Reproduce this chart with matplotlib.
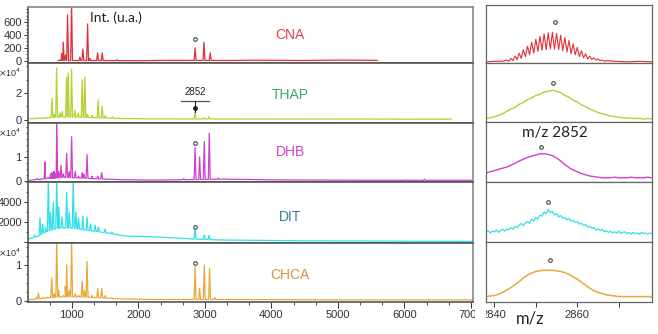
import numpy as np
import matplotlib
matplotlib.use("Agg")
import matplotlib.pyplot as plt
from matplotlib.ticker import AutoMinorLocator, MultipleLocator
from matplotlib.patches import Rectangle

W, H = 658, 334

# ---- full spectra (left column): peak positions (m/z) and heights ----
matrices = ["CNA", "THAP", "DHB", "DIT", "CHCA"]

cna_pk_mz = [850, 870, 905, 935, 995, 1120, 1165, 1236, 1270, 1386, 1456, 1675, 2852, 2985, 3080]
cna_pk_int = [120, 290, 90, 710, 900, 60, 185, 570, 40, 125, 125, 20, 200, 290, 125]
cna_base_mz = [790, 1600, 2000, 2400, 3300, 3800, 4500, 5000, 5590]
cna_base_int = [8, 6, 4, 10, 8, 12, 8, 14, 10]

thap_pk_mz = [560, 640, 700, 735, 770, 820, 855, 920, 945, 995, 1045, 1095, 1155, 1195,
              1235, 1300, 1395, 1455, 1500, 1610, 1700, 1800, 2852, 2990, 3060]
thap_pk_int = [0.1, 0.15, 1.6, 0.4, 3.9, 0.5, 0.6, 3.2, 3.5, 3.8, 0.7, 0.5, 3.0, 3.2,
               0.4, 0.3, 1.5, 1.0, 0.3, 0.2, 0.1, 0.08, 0.55, 0.15, 0.22]
thap_base_mz = [350, 600, 900, 1300, 1700, 2200, 3500, 5000, 6700]
thap_base_int = [0.05, 0.12, 0.2, 0.15, 0.08, 0.05, 0.04, 0.04, 0.03]

dhb_pk_mz = [470, 520, 597, 640, 680, 700, 715, 730, 750, 772, 800, 836, 870, 921, 960,
             996, 1050, 1100, 1154, 1180, 1228, 1300, 1388, 1448, 1600, 2680, 2852, 2920,
             2990, 3065, 3200, 3400, 6050, 6300]
dhb_pk_int = [0.1, 0.05, 0.8, 0.15, 0.3, 0.35, 0.25, 0.4, 0.3, 2.6, 0.4, 0.65, 0.3, 1.15,
              0.4, 1.85, 0.4, 0.2, 0.35, 0.3, 1.1, 0.2, 0.2, 0.35, 0.08, 0.1, 1.4, 1.0,
              1.65, 2.0, 0.12, 0.06, 0.05, 0.08]
dhb_base_mz = [350, 600, 900, 1300, 1700, 2200, 2800, 3300, 4000, 5500, 7030]
dhb_base_int = [0.03, 0.1, 0.15, 0.1, 0.06, 0.04, 0.06, 0.08, 0.05, 0.03, 0.03]

dit_pk_mz = [440, 520, 560, 600, 646, 680, 720, 772, 800, 850, 921, 960, 1020, 1060, 1100,
             1164, 1228, 1280, 1350, 1400, 1500, 1600, 2852, 2990, 3060]
dit_pk_int = [700, 2400, 1800, 1500, 6500, 3000, 4000, 6500, 3500, 2500, 5000, 3000, 6500,
              3000, 2400, 2600, 2500, 1800, 1700, 1500, 1300, 1000, 1400, 700, 650]
dit_base_mz = [350, 500, 600, 800, 1000, 1200, 1540, 1800, 2300, 2800, 3250, 4500, 7030]
dit_base_int = [300, 600, 1000, 1400, 1400, 1200, 900, 600, 500, 300, 200, 120, 60]

chca_pk_mz = [470, 497, 560, 620, 697, 735, 772, 800, 870, 900, 921, 960, 996, 1050, 1100,
              1154, 1190, 1228, 1300, 1388, 1448, 1500, 1600, 2852, 2920, 2990, 3070, 3150]
chca_pk_int = [0.1, 0.22, 0.1, 0.1, 0.64, 0.2, 1.7, 0.3, 0.15, 0.4, 1.0, 0.3, 1.6, 0.2,
               0.15, 0.55, 0.3, 1.1, 0.15, 0.35, 0.35, 0.15, 0.08, 0.95, 0.35, 1.0, 0.9, 0.1]
chca_base_mz = [350, 600, 900, 1300, 1700, 2200, 3300, 5000, 7030]
chca_base_int = [0.03, 0.08, 0.12, 0.1, 0.06, 0.04, 0.04, 0.03, 0.03]

# ---- zoom on m/z 2852 (right column), % of panel height ----
cna_iso_mz = list(range(2843, 2868))
cna_iso_int = [5, 8, 12, 17, 23, 29, 36, 41, 46, 50, 52, 53, 51, 48, 44, 39, 33, 27, 21,
               16, 12, 9, 7, 5, 4]
cna_valley_int = [3, 4, 6, 8, 11, 14, 17, 20, 22, 23, 24, 24, 23, 21, 19, 16, 14, 11, 9,
                  7, 6, 5, 4, 3]
cna_zbase_mz = [2838, 2840, 2842, 2869, 2872, 2875, 2878]
cna_zbase_int = [2, 3, 3, 3, 2, 3, 2]

zoom_mz = list(range(2838, 2879))
thap_zoom = [6, 7, 9, 11, 14, 18, 22, 25, 30, 33, 38, 41, 45, 47, 51, 52, 54, 52, 50, 45,
             42, 37, 34, 29, 26, 22, 19, 16, 14, 12, 10, 9, 8, 7, 7, 6, 6, 6, 5, 6, 5]
dhb_zoom = [15, 17, 19, 21, 23, 25, 28, 31, 35, 38, 41, 43, 45, 47, 47, 46, 44, 40, 35, 29,
            24, 20, 17, 14, 12, 10, 9, 8, 7, 7, 7, 8, 7, 7, 7, 8, 7, 7, 7, 8, 7]
chca_zoom = [9, 10, 11, 13, 16, 20, 24, 29, 34, 40, 45, 48, 51, 52, 53, 53, 53, 52, 51, 49,
             46, 42, 38, 33, 28, 23, 19, 16, 14, 12, 11, 10, 9, 9, 9, 9, 9, 9, 9, 9, 9]
dit_zoom_mz = [2838 + 0.5 * i for i in range(81)]
dit_zoom = [16, 19, 15, 18, 17, 20, 16, 19, 21, 18, 22, 20, 24, 21, 26, 24, 28, 31, 27, 32,
            34, 31, 38, 35, 41, 38, 45, 43, 50, 47, 54, 49, 51, 45, 47, 42, 44, 40, 41, 37,
            39, 35, 36, 33, 34, 30, 31, 28, 29, 25, 26, 23, 24, 20, 22, 19, 21, 17, 19, 16,
            18, 15, 17, 15, 18, 14, 16, 17, 14, 16, 13, 16, 14, 15, 13, 16, 14, 15, 13, 15, 14]

# marker (°) positions
left_marker_y = [340, None, 1.6, 1500, 1.05]
right_marker = [(2854.7, 71), (2854.2, 66), (2851.3, 58), (2853.0, 67), (2853.5, 70)]

line_colors = ["#e0303a", "#b4d232", "#d040d0", "#30e0e8", "#eba83a"]
label_colors = ["#e0404a", "#3aaa6a", "#d040c8", "#2f7c9c", "#d4913f"]
label_y = [0.5, 0.47, 0.51, 0.43, 0.46]
scale = [1, 1e4, 1e4, 1, 1e4]
ylims = [(-31, 831), (-0.26, 4.26), (-0.04, 2.42), (-100, 6000), (-0.03, 1.61)]

left_rows = [(7, 63), (63, 123), (123, 182), (182, 243), (243, 302)]
right_rows = [(5, 63), (63, 122), (122, 182), (182, 242), (242, 302)]


def px_axes(fig, x0, y0, x1, y1):
    return fig.add_axes([x0 / W, 1 - y1 / H, (x1 - x0) / W, (y1 - y0) / H])


def stick_trace(base_mz, base_int, pk_mz, pk_int, hw=14):
    xs = list(base_mz)
    ys = list(base_int)
    for m, h in zip(pk_mz, pk_int):
        b = np.interp([m - hw, m + hw], base_mz, base_int)
        xs += [m - hw, m, m + hw]
        ys += [b[0], h, b[1]]
    order = np.argsort(xs, kind="stable")
    return np.array(xs)[order], np.array(ys)[order]


spectra = [
    (cna_base_mz, cna_base_int, cna_pk_mz, cna_pk_int),
    (thap_base_mz, thap_base_int, thap_pk_mz, thap_pk_int),
    (dhb_base_mz, dhb_base_int, dhb_pk_mz, dhb_pk_int),
    (dit_base_mz, dit_base_int, dit_pk_mz, dit_pk_int),
    (chca_base_mz, chca_base_int, chca_pk_mz, chca_pk_int),
]

plt.rcParams["font.family"] = ["Liberation Sans", "DejaVu Sans"]
fig = plt.figure(figsize=(W / 100, H / 100), dpi=100)

tick_col = "#333333"
for i, name in enumerate(matrices):
    # left: full spectrum
    ax = px_axes(fig, 28, left_rows[i][0], 473, left_rows[i][1])
    x, y = stick_trace(*spectra[i])
    ax.plot(x, y, color=line_colors[i], lw=0.9)
    ax.set_xlim(340, 7030)
    ax.set_ylim(*ylims[i])
    for s in ax.spines.values():
        s.set_color("#555555")
        s.set_linewidth(1.2)
    ax.spines["top"].set_color("#888888" if i == 0 else "#555555")
    ax.spines["right"].set_color("#888888")
    ax.tick_params(axis="y", labelsize=8, colors=tick_col, length=3, width=0.7, pad=1.5)
    ax.tick_params(axis="y", which="minor", length=1.5, width=0.6, colors=tick_col)
    if i == 0:
        ax.set_yticks([0, 200, 400, 600])
        ax.yaxis.set_minor_locator(MultipleLocator(50))
    elif i == 1:
        ax.set_yticks([0, 2])
        ax.yaxis.set_minor_locator(MultipleLocator(1))
    elif i == 2:
        ax.set_yticks([0, 1])
        ax.yaxis.set_minor_locator(MultipleLocator(0.25))
    elif i == 3:
        ax.set_yticks([0, 2000, 4000])
        ax.set_yticklabels(["", "2000", "4000"])
        ax.yaxis.set_minor_locator(MultipleLocator(1000))
    else:
        ax.set_yticks([0, 1])
        ax.yaxis.set_minor_locator(MultipleLocator(0.25))
    ax.set_xticks([1000, 2000, 3000, 4000, 5000, 6000, 7000])
    ax.xaxis.set_minor_locator(AutoMinorLocator(3))
    if i < 4:
        ax.tick_params(axis="x", which="both", length=0, labelbottom=False)
    else:
        ax.tick_params(axis="x", labelsize=8, colors=tick_col, length=4, width=0.7, pad=2)
        ax.tick_params(axis="x", which="minor", length=2.5, width=0.6, colors=tick_col)
    ax.text(4280, label_y[i], name, transform=ax.get_xaxis_transform(), ha="center",
            va="center", fontsize=10, color=label_colors[i])
    if left_marker_y[i] is not None:
        ax.plot([2852], [left_marker_y[i]], "o", ms=2.6, mfc="white", mec="#444444", mew=0.8)
    if scale[i] == 1e4:
        fig.text(21 / W, 1 - (left_rows[i][0] + 9.5) / H, r"$\times$10$^4$", ha="right",
                 va="center", fontsize=6.5, color=tick_col)
    if i == 0:
        ax.text(1270, 0.8, "Int. (u.a.)", transform=ax.get_xaxis_transform(), ha="left",
                va="center", fontsize=10, color="#222222", family=["Lato", "DejaVu Sans"])
    if i == 1:
        ax.text(2852, 2.05, "2852", ha="center", va="center", fontsize=7, color="#222222")
        ax.plot([2852 - 210, 2852 + 210], [1.4, 1.4], color="#555555", lw=0.9)
        ax.plot([2852, 2852], [1.4, 0.6], color="#222222", lw=0.8)
        ax.plot([2852], [0.9], "o", ms=2.5, color="#222222")

    # right: zoom on m/z 2852
    rx = px_axes(fig, 486, right_rows[i][0], 652, right_rows[i][1])
    if i == 0:
        zx = cna_zbase_mz + cna_iso_mz + [m + 0.5 for m in cna_iso_mz[:-1]]
        zy = cna_zbase_int + cna_iso_int + cna_valley_int
        order = np.argsort(zx)
        rx.plot(np.array(zx)[order], np.array(zy)[order], color=line_colors[i], lw=0.8)
    elif i == 1:
        rx.plot(zoom_mz, thap_zoom, color=line_colors[i], lw=1.0)
    elif i == 2:
        rx.plot(zoom_mz, dhb_zoom, color=line_colors[i], lw=1.0)
    elif i == 3:
        rx.plot(dit_zoom_mz, dit_zoom, color=line_colors[i], lw=0.9)
    else:
        rx.plot(zoom_mz, chca_zoom, color=line_colors[i], lw=1.1)
    rx.plot([right_marker[i][0]], [right_marker[i][1]], "o", ms=2.6, mfc="white",
            mec="#444444", mew=0.8)
    rx.set_xlim(2838, 2878)
    rx.set_ylim(0, 100)
    rx.set_yticks([])
    for s in rx.spines.values():
        s.set_color("#666666")
        s.set_linewidth(0.9)
    rx.set_xticks([2840, 2860])
    rx.xaxis.set_minor_locator(MultipleLocator(10))
    if i < 4:
        rx.tick_params(axis="x", which="both", length=0, labelbottom=False)
    else:
        rx.tick_params(axis="x", labelsize=8, colors=tick_col, length=3.5, width=0.7, pad=2)
        rx.tick_params(axis="x", which="minor", length=3.5, width=0.7, colors=tick_col)
    if i == 2:
        rx.text(2854.7, 82, "m/z 2852", ha="center", va="center", fontsize=11,
                color="#222222", family=["Lato", "DejaVu Sans"])

fig.text(530 / W, 1 - 318 / H, "m/z", ha="center", va="center", fontsize=12,
         color="#222222", family=["Lato", "DejaVu Sans"])

# gap between the two columns hides the overhang of the tick labels
fig.add_artist(Rectangle((474.5 / W, 0), 11 / W, 31 / H, transform=fig.transFigure,
                         facecolor="white", edgecolor="none", zorder=10))

fig.savefig("out.png", dpi=100)
